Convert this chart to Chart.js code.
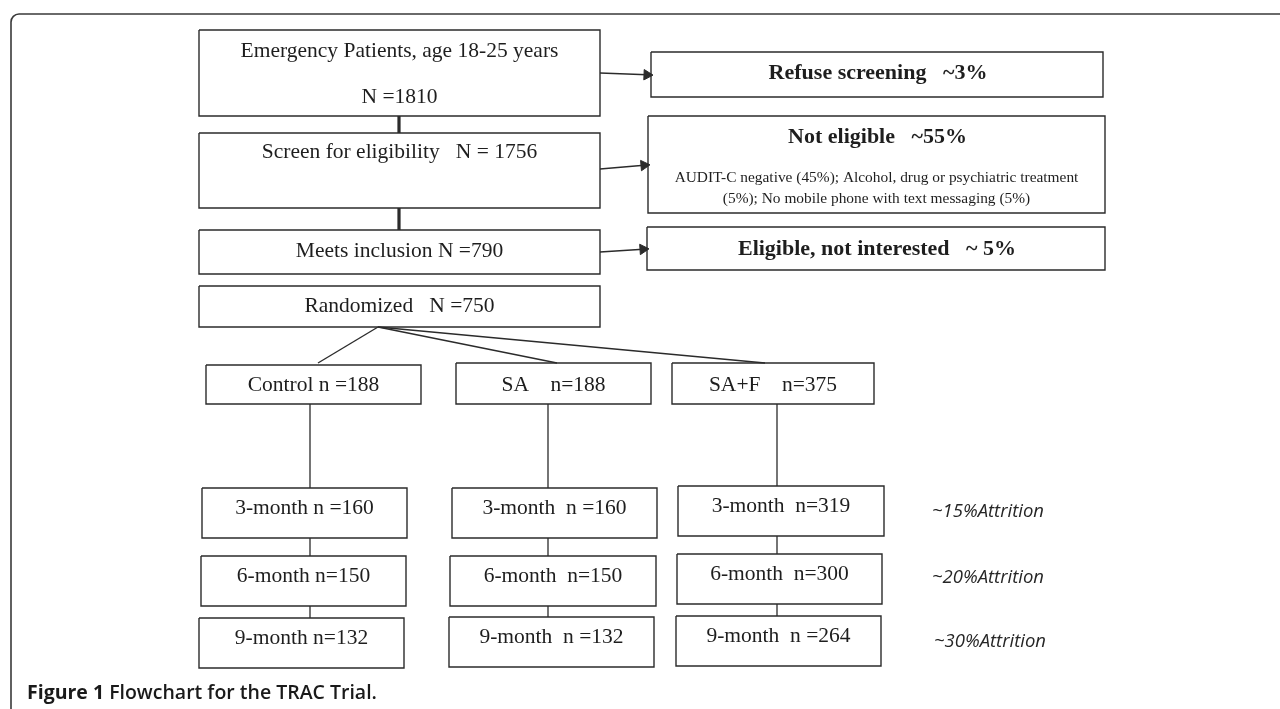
<!DOCTYPE html>
<html>
<head>
<meta charset="utf-8">
<title>Flowchart for the TRAC Trial</title>
<script src="https://cdn.jsdelivr.net/npm/chart.js@4.4.1/dist/chart.umd.min.js"></script>
<style>
  body { margin: 0; background: #fff; }
  #wrap { width: 1280px; height: 709px; position: relative; }
</style>
</head>
<body>
<div id="wrap"><canvas id="myChart"></canvas></div>
<script>
// ---- data ----
var screeningLabels = ['Emergency Patients, age 18-25 years', 'Screen for eligibility', 'Meets inclusion', 'Randomized'];
var screeningN = [1810, 1756, 790, 750];
var exclusionLabels = ['Refuse screening', 'Not eligible', 'Eligible, not interested'];
var exclusionPct = ['~3%', '~55%', '~ 5%'];
var notEligibleDetail = ['AUDIT-C negative (45%); Alcohol, drug or psychiatric treatment', '(5%); No mobile phone with text messaging (5%)'];
var armNames = ['Control', 'SA', 'SA+F'];
var armN = [188, 188, 375];
var followUpLabels = ['3-month', '6-month', '9-month'];
var controlN = [160, 150, 132];
var saN = [160, 150, 132];
var safN = [319, 300, 264];
var attritionLabels = ['~15%Attrition', '~20%Attrition', '~30%Attrition'];
var caption = ['Figure 1', 'Flowchart for the TRAC Trial.'];

// ---- layout (figure pixel units, y grows downward) ----
var screenBoxes = [[199, 30, 600, 116], [199, 133, 600, 208], [199, 230, 600, 274], [199, 286, 600, 327]];
var screenTextY = [[51, 97], [152], [251], [306]];
var screenSep = [['', 'N ='], ['   N = '], [' N ='], ['   N =']];
var exclBoxes = [[651, 52, 1103, 97], [648, 116, 1105, 213], [647, 227, 1105, 270]];
var exclTextY = [73, 137, 249];
var detailY = [178, 199];
var armBoxes = [[206, 365, 421, 404], [456, 363, 651, 404], [672, 363, 874, 404]];
var armSep = [' n =', '    n=', '    n='];
var followBoxes = [
  [[202, 488, 407, 538], [201, 556, 406, 606], [199, 618, 404, 668]],
  [[452, 488, 657, 538], [450, 556, 656, 606], [449, 617, 654, 667]],
  [[678, 486, 884, 536], [677, 554, 882, 604], [676, 616, 881, 666]]
];
var followSep = [[' n =', ' n=', ' n='], ['  n =', '  n=', '  n ='], ['  n=', '  n=', '  n =']];
var stemX = [310, 548, 777];
var attritionPos = [[988, 512], [988, 578], [990, 642]];
var thickLinks = [[399, 116, 399, 133], [399, 208, 399, 230]];
var fanFrom = [378, 327];
var fanTo = [[318, 363], [557, 363], [765, 363]];
var arrows = [[600, 73, 651, 75], [600, 169, 648, 165], [600, 252, 647, 249]];

var LINE = '#2b2b2b';

function rectPath(b) {
  return [{x: b[0], y: b[1]}, {x: b[2], y: b[1]}, {x: b[2], y: b[3]}, {x: b[0], y: b[3]}, {x: b[0], y: b[1]}];
}
function lineSet(pts, width) {
  return {
    data: pts, showLine: true, borderColor: LINE, borderWidth: width || 1.4,
    pointRadius: 0, fill: false, tension: 0, borderJoinStyle: 'miter'
  };
}

var datasets = [];
var allBoxes = screenBoxes.concat(exclBoxes, armBoxes, followBoxes[0], followBoxes[1], followBoxes[2]);
allBoxes.forEach(function (b) { datasets.push(lineSet(rectPath(b), 1.4)); });
thickLinks.forEach(function (l) { datasets.push(lineSet([{x: l[0], y: l[1]}, {x: l[2], y: l[3]}], 3.2)); });
fanTo.forEach(function (p) { datasets.push(lineSet([{x: fanFrom[0], y: fanFrom[1]}, {x: p[0], y: p[1]}], 1.4)); });
for (var a = 0; a < 3; a++) {
  var armBottom = armBoxes[a][3];
  var fb = followBoxes[a];
  datasets.push(lineSet([{x: stemX[a], y: armBottom}, {x: stemX[a], y: fb[0][1]}], 1.3));
  datasets.push(lineSet([{x: stemX[a], y: fb[0][3]}, {x: stemX[a], y: fb[1][1]}], 1.3));
  datasets.push(lineSet([{x: stemX[a], y: fb[1][3]}, {x: stemX[a], y: fb[2][1]}], 1.3));
}
// arrows: line plus a triangle point just before the tip
arrows.forEach(function (ar) {
  var dx = ar[2] - ar[0], dy = ar[3] - ar[1];
  var len = Math.sqrt(dx * dx + dy * dy);
  var hx = ar[2] - dx / len * 4, hy = ar[3] - dy / len * 4;
  var rot = 90 + Math.atan2(dy, dx) * 180 / Math.PI;
  var ds = lineSet([{x: ar[0], y: ar[1]}, {x: hx, y: hy}, {x: ar[2], y: ar[3]}], 1.5);
  ds.pointRadius = [0, 6, 0];
  ds.pointStyle = 'triangle';
  ds.pointRotation = rot;
  ds.pointBackgroundColor = LINE;
  ds.pointBorderColor = LINE;
  ds.pointBorderWidth = 1;
  datasets.push(ds);
});

// text and frame drawn through the same scales
var textPlugin = {
  id: 'flowText',
  beforeDraw: function (chart) {
    var ctx = chart.ctx;
    ctx.save();
    ctx.fillStyle = '#fff';
    ctx.fillRect(0, 0, chart.width, chart.height);
    // figure frame with rounded top-left corner
    ctx.strokeStyle = '#3a3a3a';
    ctx.lineWidth = 1.6;
    ctx.beginPath();
    ctx.moveTo(11, chart.height);
    ctx.lineTo(11, 22);
    ctx.arcTo(11, 14, 19, 14, 8);
    ctx.lineTo(chart.width, 14);
    ctx.stroke();
    ctx.restore();
  },
  afterDatasetsDraw: function (chart) {
    var ctx = chart.ctx;
    var xs = chart.scales.x, ys = chart.scales.y;
    function put(text, x, y, font, color) {
      ctx.font = font;
      ctx.fillStyle = color || '#1e1e1e';
      ctx.fillText(text, xs.getPixelForValue(x), ys.getPixelForValue(y));
    }
    function cx(b) { return (b[0] + b[2]) / 2; }
    ctx.save();
    ctx.textAlign = 'center';
    ctx.textBaseline = 'middle';
    var serif = '"Liberation Serif", "Times New Roman", serif';
    var body = '21.5px ' + serif;

    // screening chain
    put(screeningLabels[0], cx(screenBoxes[0]), screenTextY[0][0], body);
    put(screenSep[0][1] + screeningN[0], cx(screenBoxes[0]), screenTextY[0][1], body);
    for (var i = 1; i < screeningLabels.length; i++) {
      put(screeningLabels[i] + screenSep[i][0] + screeningN[i], cx(screenBoxes[i]), screenTextY[i][0], body);
    }
    // exclusions
    for (var j = 0; j < exclusionLabels.length; j++) {
      put(exclusionLabels[j] + '   ' + exclusionPct[j], cx(exclBoxes[j]) + 1, exclTextY[j], 'bold 22px ' + serif);
    }
    notEligibleDetail.forEach(function (t, k) {
      put(t, cx(exclBoxes[1]), detailY[k], '15.4px ' + serif);
    });
    // arms
    for (var a = 0; a < armNames.length; a++) {
      put(armNames[a] + armSep[a] + armN[a], cx(armBoxes[a]), 385, body);
    }
    // follow-ups
    var arms = [controlN, saN, safN];
    for (var a2 = 0; a2 < 3; a2++) {
      for (var m = 0; m < 3; m++) {
        var b = followBoxes[a2][m];
        put(followUpLabels[m] + followSep[a2][m] + arms[a2][m], cx(b), b[1] + 20, body);
      }
    }
    // attrition notes
    attritionLabels.forEach(function (t, k) {
      put(t, attritionPos[k][0], attritionPos[k][1], 'italic 18.5px "Open Sans", sans-serif', '#262626');
    });
    // caption
    ctx.textAlign = 'left';
    ctx.font = 'bold 19.5px "Open Sans", sans-serif';
    ctx.fillStyle = '#1a1a1a';
    var cxp = 27;
    ctx.fillText(caption[0], cxp, 693);
    var w0 = ctx.measureText(caption[0] + ' ').width;
    ctx.font = '600 19.5px "Open Sans", sans-serif';
    ctx.fillText(caption[1], cxp + w0, 693);
    ctx.restore();
  }
};

var ctx = document.getElementById('myChart').getContext('2d');
var myChart = new Chart(ctx, {
  type: 'scatter',
  data: { datasets: datasets },
  options: {
    responsive: true,
    maintainAspectRatio: false,
    animation: false,
    events: [],
    layout: { padding: 0 },
    plugins: { legend: { display: false }, tooltip: { enabled: false } },
    scales: {
      x: { type: 'linear', min: 0, max: 1280, display: false },
      y: { type: 'linear', min: 0, max: 709, reverse: true, display: false }
    }
  },
  plugins: [textPlugin]
});
</script>
</body>
</html>
